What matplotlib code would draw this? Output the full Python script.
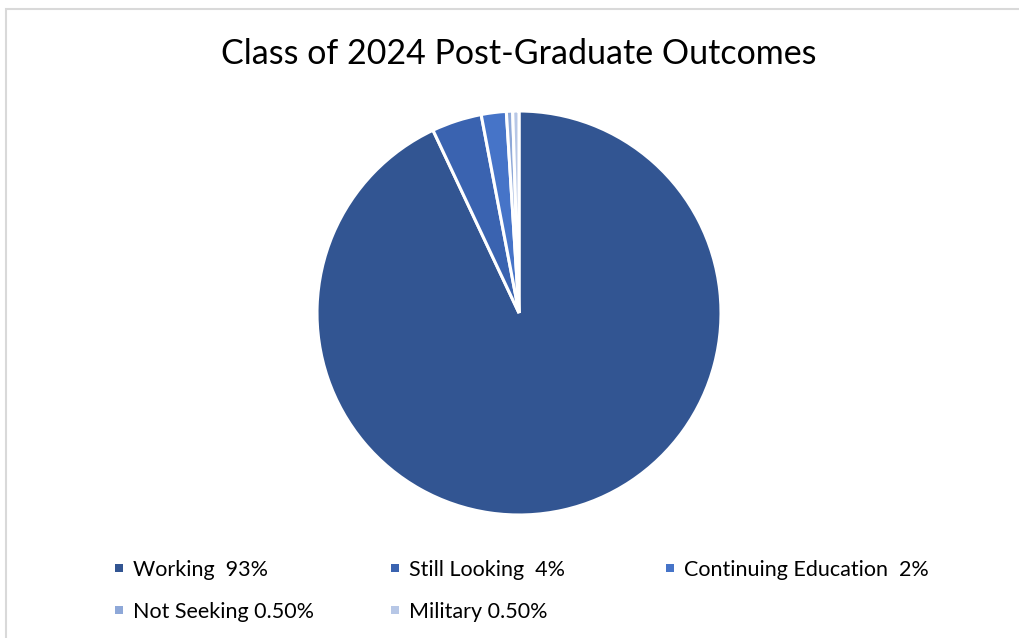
import matplotlib
matplotlib.use("Agg")
import matplotlib.pyplot as plt
from matplotlib.patches import Rectangle

plt.rcParams['font.family'] = ['Lato', 'DejaVu Sans']

# data
categories = ['Working', 'Still Looking', 'Continuing Education', 'Not Seeking', 'Military']
shares = [93, 4, 2, 0.5, 0.5]
legend_labels = ['Working  93%', 'Still Looking  4%', 'Continuing Education  2%',
                 'Not Seeking 0.50%', 'Military 0.50%']
colors = ['#325592', '#3a63b0', '#4674c8', '#8ea8d8', '#b7c7e6']

W, H = 1019, 638
fig = plt.figure(figsize=(W / 100, H / 100), dpi=100)

# light grey chart frame (only left and top edges visible)
fig.patches.append(Rectangle((5.5 / W, -0.1), 1.2, 1.1 - 9.5 / H,
                             transform=fig.transFigure, fill=False,
                             edgecolor='#d9d9d9', linewidth=1.5))

# pie axes, square in pixels, centre (519, 313), radius 202
ax = fig.add_axes([317 / W, 123 / H, 404 / W, 404 / H])
wedges, _ = ax.pie(shares, colors=colors, startangle=90, counterclock=False,
                   radius=1, wedgeprops=dict(edgecolor='white', linewidth=2.2))
ax.set_xlim(-1, 1)
ax.set_ylim(-1, 1)
ax.set_aspect('equal')
ax.axis('off')

fig.text(519 / W, 1 - 54 / H, 'Class of 2024 Post-Graduate Outcomes',
         ha='center', va='center', fontsize=24.5, color='black')

# legend laid out row by row like the original
col_x = [115, 391, 666]
row_y = [570, 612]
for i, lab in enumerate(legend_labels):
    x = col_x[i % 3]
    y = row_y[i // 3]
    fig.patches.append(Rectangle((x / W, 1 - (y + 2) / H), 8 / W, 8 / H,
                                 transform=fig.transFigure,
                                 facecolor=wedges[i].get_facecolor(), edgecolor='none'))
    fig.text((x + 18) / W, 1 - y / H, lab, ha='left', va='center',
             fontsize=15.5, color='black')

fig.savefig('out.png', dpi=100)
